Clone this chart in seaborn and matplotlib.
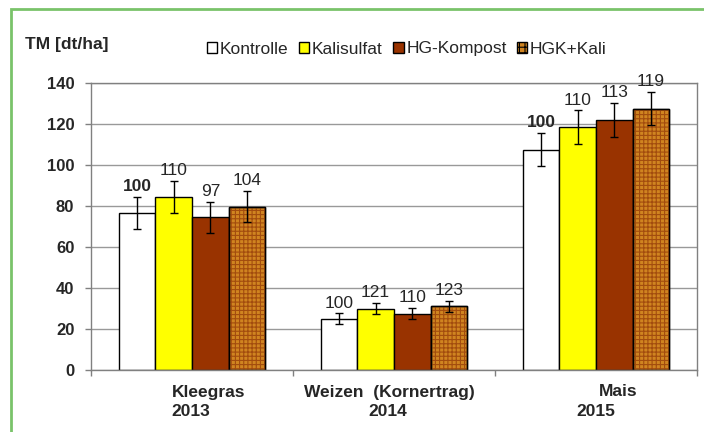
import numpy as np
import pandas as pd
import matplotlib.pyplot as plt
import seaborn as sns
from matplotlib.patches import Rectangle
from matplotlib.transforms import offset_copy

sns.set_style("white")
plt.rcParams['font.family'] = ['Liberation Sans', 'DejaVu Sans']
plt.rcParams['hatch.linewidth'] = 0.8

# data
crops = ["Kleegras", "Weizen", "Mais"]
years = ["2013", "2014", "2015"]
crop_titles = ["Kleegras", "Weizen  (Kornertrag)", "Mais"]
treatments = ["Kontrolle", "Kalisulfat", "HG-Kompost", "HGK+Kali"]

kontrolle = [76.5, 25.0, 107.5]
kalisulfat = [84.5, 30.0, 118.5]
hg_kompost = [74.5, 27.5, 122.0]
hgk_kali = [79.7, 31.0, 127.5]

err_kontrolle = [7.7, 2.6, 8.0]
err_kalisulfat = [7.8, 2.6, 8.1]
err_hg_kompost = [7.5, 2.6, 8.1]
err_hgk_kali = [7.6, 2.6, 8.1]

# relative yield (Kontrolle = 100)
rel_kontrolle = ["100", "100", "100"]
rel_kalisulfat = ["110", "121", "110"]
rel_hg_kompost = ["97", "110", "113"]
rel_hgk_kali = ["104", "123", "119"]

values = [kontrolle, kalisulfat, hg_kompost, hgk_kali]
errors = [err_kontrolle, err_kalisulfat, err_hg_kompost, err_hgk_kali]
rel = [rel_kontrolle, rel_kalisulfat, rel_hg_kompost, rel_hgk_kali]

rows = []
for t, vals, errs, rs in zip(treatments, values, errors, rel):
    for c, v, e, r in zip(crops, vals, errs, rs):
        rows.append({"crop": c, "treatment": t, "value": v, "err": e, "rel": r})
df = pd.DataFrame(rows)

colors = ["#ffffff", "#ffff00", "#993300", "#d08420"]
hatch_col = "#a24c0e"

fig = plt.figure(figsize=(7.04, 4.32), dpi=100)
ax = fig.add_axes([91 / 704, 1 - 370 / 432, 606 / 704, 287 / 432])

sns.barplot(data=df, x="crop", y="value", hue="treatment", order=crops,
            hue_order=treatments, palette=colors, saturation=1, width=0.727, gap=0,
            errorbar=None, edgecolor="black", linewidth=1.0, legend=False, ax=ax)

for i, (t, cont) in enumerate(zip(treatments, ax.containers)):
    sub = df[df.treatment == t].set_index("crop").loc[crops]
    xs = [p.get_x() + p.get_width() / 2 for p in cont.patches]
    hs = [p.get_height() for p in cont.patches]
    ax.errorbar(xs, hs, yerr=sub["err"].values, fmt="none", ecolor="black",
                elinewidth=1, capsize=3, capthick=1, zorder=5)
    if t == "HGK+Kali":
        for p in cont.patches:
            ax.add_patch(Rectangle(p.get_xy(), p.get_width(), p.get_height(),
                                   fill=False, hatch="++++", edgecolor=hatch_col,
                                   linewidth=0, zorder=p.get_zorder() + 0.1))
            ax.add_patch(Rectangle(p.get_xy(), p.get_width(), p.get_height(),
                                   fill=False, edgecolor="black", linewidth=1.0,
                                   zorder=p.get_zorder() + 0.2))
    for j, (x, h) in enumerate(zip(xs, hs)):
        bold = (t == "Kontrolle" and crops[j] != "Weizen")
        tr = offset_copy(ax.transData, fig=fig, x=0, y=7.5, units="points")
        ax.text(x, h + sub["err"].values[j], sub["rel"].values[j], transform=tr,
                ha="center", va="center", fontsize=12.5,
                fontweight="bold" if bold else "normal")

ax.set_ylim(0, 140)
ax.set_xlim(-0.5, 2.5)
ax.set_yticks(np.arange(0, 141, 20))
ax.set_yticklabels([str(v) for v in range(0, 141, 20)], fontweight="bold", fontsize=12)
ax.yaxis.grid(True, color="#999999", linewidth=1)
ax.set_axisbelow(True)
ax.tick_params(axis="y", length=4, width=1, color="#808080", pad=8, left=True)
ax.set_xticks([-0.5, 0.5, 1.5, 2.5])
ax.set_xticklabels([])
ax.tick_params(axis="x", length=4, width=1, color="#808080", bottom=True)
ax.set_xlabel("")
ax.set_ylabel("")
for s in ax.spines.values():
    s.set_color("#808080")
    s.set_linewidth(1)

# category labels below the axis (offsets in pixels)
line1_dx = [17, -5, 22]
line2_dx = [-1, -6, 0]
for i, (title, yr) in enumerate(zip(crop_titles, years)):
    tr1 = offset_copy(ax.get_xaxis_transform(), fig=fig, x=line1_dx[i] * 0.72, y=0, units="points")
    tr2 = offset_copy(ax.get_xaxis_transform(), fig=fig, x=line2_dx[i] * 0.72, y=0, units="points")
    ax.text(i, -22 / 287, title, transform=tr1, ha="center", va="center",
            fontsize=12.5, fontweight="bold")
    ax.text(i, -41 / 287, yr, transform=tr2, ha="center", va="center",
            fontsize=12.5, fontweight="bold")

handles = [Rectangle((0, 0), 1, 1, facecolor=c, edgecolor="black", linewidth=1)
           for c in colors]
handles[3].set_hatch("+++")
fig.legend(handles, treatments, loc="center", bbox_to_anchor=(0.578, 1 - 49 / 432),
           ncol=4, frameon=False, fontsize=12.5, handlelength=0.6, handleheight=0.6,
           handletextpad=0.15, columnspacing=0.6, borderaxespad=0)

fig.text(25 / 704, 1 - 45 / 432, "TM [dt/ha]", fontsize=12.5, fontweight="bold",
         ha="left", va="center")

fig.add_artist(Rectangle((11 / 704, -0.1), 1.2, 1.1 - 9 / 432, fill=False,
                         edgecolor="#7ac36a", linewidth=2, transform=fig.transFigure))

fig.savefig("out.png", dpi=100)
